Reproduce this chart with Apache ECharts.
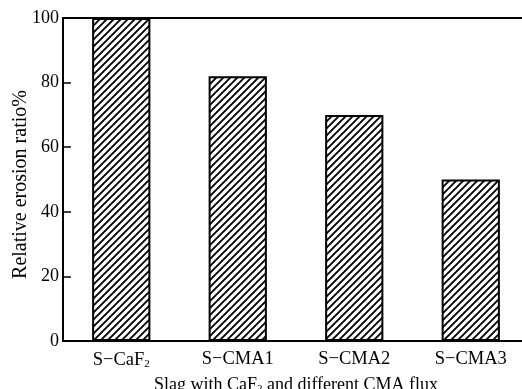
<!DOCTYPE html>
<html><head><meta charset="utf-8">
<script src="https://cdn.jsdelivr.net/npm/echarts@6/dist/echarts.min.js"></script>
<style>html,body{margin:0;padding:0;background:#fff}#c{width:522px;height:389px}</style>
</head><body><div id="c"></div>
<script>
var categories = ['S−CaF{sub|2}', 'S−CMA1', 'S−CMA2', 'S−CMA3'];
var values = [100, 82, 70, 50];
var yTicks = [0, 20, 40, 60, 80, 100];

var FONT = "'Liberation Serif', 'Times New Roman', serif";

function hatch() {
  var s = 7;
  var cv = document.createElement('canvas');
  cv.width = s; cv.height = s;
  var ctx = cv.getContext('2d');
  ctx.fillStyle = '#fff';
  ctx.fillRect(0, 0, s, s);
  ctx.strokeStyle = '#000';
  ctx.lineWidth = 1.9;
  ctx.beginPath();
  ctx.moveTo(-1, s + 1); ctx.lineTo(s + 1, -1);
  ctx.moveTo(-1, 1); ctx.lineTo(1, -1);
  ctx.moveTo(s - 1, s + 1); ctx.lineTo(s + 1, s - 1);
  ctx.stroke();
  return cv;
}

var chart = echarts.init(document.getElementById('c'));
chart.setOption({
  animation: false,
  grid: { left: 63, width: 466, top: 18, height: 323, outerBoundsMode: 'none', containLabel: false,
    show: true, borderColor: '#000', borderWidth: 2, backgroundColor: 'transparent' },
  xAxis: {
    type: 'category',
    data: categories,
    name: 'Slag with CaF{sub|2} and different CMA flux',
    nameLocation: 'middle',
    nameGap: 34,
    nameMoveOverlap: false,
    nameTextStyle: { color: '#000', fontFamily: FONT, fontSize: 18,
      rich: { sub: { fontSize: 11, fontFamily: FONT, color: '#000', padding: [9, 0, 0, 0] } } },
    axisLine: { lineStyle: { color: '#000', width: 2 } },
    axisTick: { show: false },
    axisLabel: { color: '#000', fontFamily: FONT, fontSize: 18.5, margin: 9, interval: 0,
      rich: { sub: { fontSize: 11, fontFamily: FONT, color: '#000', padding: [9, 0, 0, 0] } } }
  },
  yAxis: {
    type: 'value',
    min: yTicks[0], max: yTicks[yTicks.length - 1], interval: 20,
    name: 'Relative erosion ratio%',
    nameLocation: 'middle',
    nameGap: 32,
    nameMoveOverlap: false,
    nameTextStyle: { color: '#000', fontFamily: FONT, fontSize: 20, padding: [0, 10, 0, 0] },
    axisLine: { show: true, lineStyle: { color: '#000', width: 2 } },
    axisTick: { show: true, inside: true, length: 8, lineStyle: { color: '#000', width: 1.5 } },
    axisLabel: { color: '#000', fontFamily: FONT, fontSize: 18, margin: 4 },
    splitLine: { show: false }
  },
  series: [{
    type: 'bar',
    data: values,
    barWidth: '50%',
    itemStyle: { color: { image: hatch(), repeat: 'repeat' }, borderColor: '#000', borderWidth: 2 }
  }]
});
</script></body></html>
